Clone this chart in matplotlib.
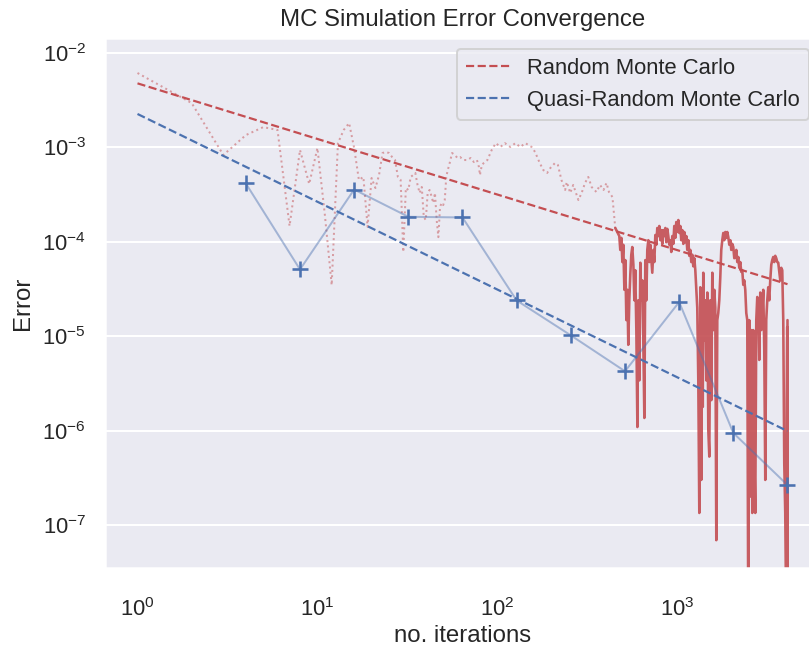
import numpy as np
import matplotlib
matplotlib.use("Agg")
import matplotlib.pyplot as plt
import seaborn as sns

sns.set_theme(style="darkgrid")
plt.rcParams['font.family'] = ['Liberation Sans', 'DejaVu Sans']

# error del Monte Carlo aleatorio, tramo poco denso (N <= 436)
n_rand_sparse = [1, 2, 3, 4, 5, 6, 7, 8, 9, 10, 11, 12, 13, 14, 15, 16, 17, 18, 19, 20,
                 21, 22, 23, 24, 25, 26, 27, 28, 29, 30, 31, 32, 33, 34, 35, 36, 37, 38, 39, 40,
                 41, 42, 43, 44, 45, 46, 47, 48, 49, 50, 51, 52, 53, 54, 56, 58, 60, 62, 65, 68,
                 71, 74, 77, 79, 80, 82, 84, 88, 93, 98, 104, 110, 118, 126, 134, 143, 155, 162, 172, 180,
                 189, 197, 209, 217, 227, 238, 243, 254, 264, 282, 294, 307, 320, 334, 355, 372, 389, 404, 417, 436,
                 452]
err_rand_sparse = [6.14e-3, 2.95e-3, 8.31e-4, 1.35e-3, 1.64e-3, 1.53e-3, 1.47e-4, 9.39e-4, 4.10e-4, 9.85e-4,
                   1.92e-4, 3.48e-5, 1.11e-3, 1.53e-3, 1.81e-3, 9.85e-4, 4.52e-4, 4.86e-4, 1.44e-4, 4.74e-4,
                   3.71e-4, 5.10e-4, 8.72e-4, 8.94e-4, 8.72e-4, 7.91e-4, 7.35e-4, 4.86e-4, 4.52e-4, 7.79e-5,
                   3.71e-4, 3.54e-4, 4.86e-4, 5.10e-4, 5.36e-4, 4.00e-4, 3.29e-4, 3.81e-4, 1.83e-4, 1.70e-4,
                   3.29e-4, 3.54e-4, 3.06e-4, 2.58e-4, 3.29e-4, 1.70e-4, 1.12e-4, 2.34e-4, 2.58e-4, 2.45e-4,
                   2.77e-4, 4.86e-4, 5.76e-4, 6.51e-4, 8.72e-4, 8.31e-4, 7.72e-4, 7.91e-4, 7.35e-4, 7.35e-4,
                   7.72e-4, 7.00e-4, 7.35e-4, 6.20e-4, 5.10e-4, 6.51e-4, 6.83e-4, 7.35e-4, 9.39e-4, 1.11e-3,
                   1.01e-3, 1.11e-3, 1.01e-3, 1.11e-3, 1.01e-3, 1.11e-3, 1.01e-3, 8.94e-4, 6.83e-4, 5.76e-4,
                   5.36e-4, 6.05e-4, 6.83e-4, 6.51e-4, 4.52e-4, 3.54e-4, 4.30e-4, 3.29e-4, 4.00e-4, 2.77e-4,
                   3.29e-4, 4.20e-4, 4.86e-4, 3.81e-4, 3.37e-4, 4.00e-4, 3.54e-4, 4.20e-4, 3.37e-4, 2.98e-4,
                   1.40e-4]

# tramo denso (N >= 452), muchas oscilaciones
n_rand_dense = [452, 464, 476, 482, 489, 495, 501, 508, 514, 521, 528, 534, 541, 548, 555, 562, 570, 577, 584, 592,
                600, 607, 615, 623, 631, 639, 647, 656, 664, 673, 681, 690, 699, 708, 717, 726, 736, 745, 755, 764,
                774, 784, 794, 805, 815, 825, 836, 847, 858, 869, 880, 891, 903, 914, 926, 938, 950, 962, 975, 987,
                1000, 1013, 1026, 1039, 1052, 1066, 1080, 1094, 1108, 1122, 1136, 1151, 1166, 1181, 1196, 1211, 1227, 1243, 1259, 1275,
                1291, 1308, 1325, 1342, 1359, 1377, 1385, 1394, 1412, 1431, 1449, 1468, 1487, 1506, 1525, 1545, 1565, 1585, 1605, 1626,
                1647, 1668, 1689, 1711, 1733, 1755, 1778, 1801, 1824, 1848, 1871, 1895, 1920, 1945, 1970, 1995, 2021, 2047, 2073, 2100,
                2127, 2154, 2182, 2210, 2238, 2267, 2296, 2326, 2356, 2386, 2417, 2448, 2479, 2511, 2544, 2576, 2610, 2643, 2677, 2712,
                2747, 2782, 2818, 2854, 2891, 2928, 2966, 3004, 3043, 3082, 3121, 3162, 3202, 3243, 3285, 3328, 3370, 3414, 3458, 3502,
                3547, 3593, 3639, 3686, 3734, 3782, 3830, 3880, 3930, 3980, 4031, 4057, 4083, 4090, 4096]
err_rand_dense = [1.40e-4, 1.27e-4, 1.15e-4, 8.2e-5, 1.10e-4, 6.1e-5, 9.3e-5, 3.1e-5, 6.4e-5, 1.48e-5,
                  3.1e-5, 8.1e-6, 2.4e-5, 4.5e-5, 7.3e-5, 8.8e-5, 5.7e-5, 2.4e-5, 5.0e-5, 1.16e-5,
                  1.09e-6, 2.4e-5, 3.4e-6, 6.0e-5, 2.4e-5, 3.9e-5, 9.1e-6, 1.36e-6, 6.4e-5, 2.4e-5,
                  8.2e-5, 1.04e-4, 6.1e-5, 9.3e-5, 6.7e-5, 4.7e-5, 8.2e-5, 6.1e-5, 1.18e-4, 9.3e-5,
                  1.40e-4, 1.15e-4, 1.47e-4, 1.04e-4, 1.33e-4, 9.5e-5, 1.33e-4, 1.15e-4, 1.40e-4, 9.9e-5,
                  1.37e-4, 1.15e-4, 9.3e-5, 1.04e-4, 7.8e-5, 1.15e-4, 9.5e-5, 1.47e-4, 1.10e-4, 1.62e-4,
                  1.27e-4, 1.70e-4, 1.24e-4, 1.47e-4, 1.04e-4, 1.33e-4, 9.5e-5, 1.27e-4, 9.9e-5, 1.15e-4,
                  8.2e-5, 1.04e-4, 7.1e-5, 8.2e-5, 6.1e-5, 7.3e-5, 5.5e-5, 6.7e-5, 5.0e-5, 3.1e-5,
                  2.0e-5, 3.4e-6, 1.34e-7, 3.3e-5, 3.0e-7, 2.4e-5, 1.78e-6, 4.7e-5, 9.1e-6, 2.4e-5,
                  3.4e-6, 2.9e-5, 1.01e-6, 5.3e-7, 2.4e-5, 2.1e-6, 4.7e-5, 1.16e-5, 3.1e-5, 2.0e-5,
                  6.9e-8, 1.48e-5, 1.76e-5, 2.4e-5, 4.2e-5, 8.2e-5, 1.04e-4, 1.24e-4, 1.04e-4, 1.27e-4,
                  1.10e-4, 1.27e-4, 1.12e-4, 9.3e-5, 1.04e-4, 8.2e-5, 9.5e-5, 8.8e-5, 6.7e-5, 6.9e-5,
                  8.2e-5, 6.1e-5, 6.9e-5, 5.3e-5, 6.1e-5, 4.8e-5, 5.0e-5, 3.5e-5, 3.9e-5, 3.1e-5,
                  1.76e-5, 1.48e-5, 1e-8, 1.48e-5, 2.0e-7, 1.16e-5, 1.34e-7, 1.16e-5, 6.2e-7, 1.34e-7,
                  1.48e-5, 2.6e-5, 2.4e-5, 5.6e-6, 2.9e-5, 1.16e-5, 1.76e-5, 3.1e-5, 7.1e-6, 3.0e-7,
                  1.48e-5, 2.4e-5, 3.3e-5, 2.4e-5, 3.9e-5, 5.7e-5, 6.4e-5, 6.9e-5, 6.1e-5, 7.1e-5,
                  6.7e-5, 6.1e-5, 6.0e-5, 4.8e-5, 3.9e-5, 5.3e-5, 5.0e-5, 1.48e-5, 4.5e-7, 1.34e-7,
                  1e-8, 2.1e-6, 1.25e-5, 1e-8, 1.48e-5]

# Quasi-Monte Carlo (potencias de 2)
n_quasi = [4, 8, 16, 32, 64, 128, 256, 512, 1024, 2048, 4096]
err_quasi = [4.15e-4, 5.09e-5, 3.58e-4, 1.84e-4, 1.81e-4, 2.39e-5, 1.02e-5, 4.25e-6, 2.30e-5, 9.43e-7, 2.65e-7]

# ajustes de ley de potencia: error = coef * N**expo
rand_fit_coef, rand_fit_expo = 4.77e-3, -0.589
quasi_fit_coef, quasi_fit_expo = 2.26e-3, -0.930
n_fit = np.array([1, 4096])

fig = plt.figure(figsize=(809 / 144, 652 / 144), dpi=144)
ax = fig.add_axes([105 / 809, 84 / 652, 715 / 809, 530 / 652])

ax.loglog(n_rand_sparse, err_rand_sparse, 'r:', lw=1, alpha=0.5)
ax.loglog(n_rand_dense, err_rand_dense, 'r-', lw=1.3, alpha=0.9)
ax.loglog(n_fit, rand_fit_coef * n_fit ** rand_fit_expo, 'r--', lw=1.1, label='Random Monte Carlo')

ax.loglog(n_quasi, err_quasi, 'b-', lw=1, alpha=0.45)
ax.loglog(n_quasi, err_quasi, 'b+', ms=8, mew=1.3)
ax.loglog(n_fit, quasi_fit_coef * n_fit ** quasi_fit_expo, 'b--', lw=1.1, label='Quasi-Random Monte Carlo')

ax.set_xlim(10 ** -0.1806, 10 ** 3.793)
ax.set_ylim(10 ** -7.456, 10 ** -1.841)
ax.xaxis.grid(False)
ax.tick_params(axis='x', pad=9)

ax.set_title('MC Simulation Error Convergence')
ax.set_xlabel('no. iterations', labelpad=2)
ax.set_ylabel('Error')
ax.legend(loc='upper right')

fig.savefig('out.png', dpi=144)
